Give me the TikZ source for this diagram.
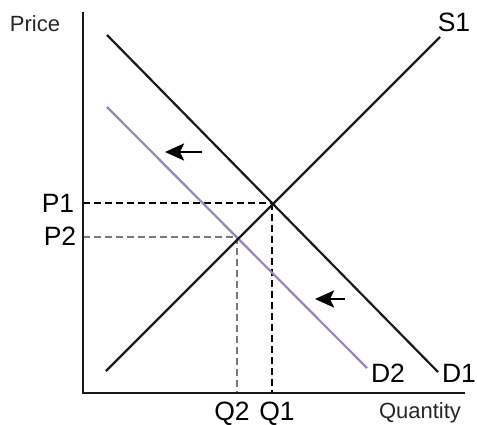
\documentclass[tikz,border=0pt]{standalone}
\usepackage{xcolor}
\usepackage{fontspec}
\setmainfont{Liberation Sans}
\usetikzlibrary{arrows.meta}

\definecolor{lilac}{RGB}{150,135,178}
\definecolor{dashgray}{RGB}{120,120,120}

\begin{document}
\begin{tikzpicture}[
    x=1pt, y=-1pt,
    biglabel/.style={
        inner sep=0pt,
        anchor=base,
        font=\fontsize{26.5}{28}\selectfont
    },
    smalllabel/.style={
        inner sep=0pt,
        anchor=base,
        font=\fontsize{22}{24}\selectfont,
        text=black!85
    },
    axis/.style={line width=2.4pt, black!90},
    curve/.style={line width=2.2pt, black!90},
    guide/.style={line width=1.6pt, dash pattern=on 7pt off 4pt},
    shiftarrow/.style={line width=2.6pt,-{Stealth[length=19pt,width=17pt,inset=4pt]}}
]
\useasboundingbox (0,0) rectangle (477,425);

% Points
\coordinate (origin) at (83,393);
\coordinate (ytop) at (83,12);
\coordinate (xend) at (465,393);
\coordinate (d1start) at (107,35);
\coordinate (d1end) at (438,372);
\coordinate (s1start) at (106,371);
\coordinate (s1end) at (440,37);
\coordinate (d2start) at (107,107);
\coordinate (d2end) at (367,368);
\coordinate (eq1) at (272,203);
\coordinate (eq2) at (237,237);
\coordinate (p1) at (83,203);
\coordinate (p2) at (83,237);
\coordinate (q1) at (272,393);
\coordinate (q2) at (237,393);
\coordinate (arrowAfrom) at (202,152);
\coordinate (arrowAto) at (165,152);
\coordinate (arrowBfrom) at (345,299);
\coordinate (arrowBto) at (315,299);

% Labels
\node (price) [smalllabel] at (35,32) {Price};
\node (qty) [smalllabel] at (420,418) {Quantity};
\node (s1lab) [biglabel] at (454,32) {S1};
\node (d1lab) [biglabel] at (459,382) {D1};
\node (d2lab) [biglabel] at (388,382) {D2};
\node (p1lab) [biglabel] at (58,213) {P1};
\node (p2lab) [biglabel] at (60,246) {P2};
\node (q2lab) [biglabel] at (232,420) {Q2};
\node (q1lab) [biglabel] at (277,420) {Q1};

% Guides
\draw [guide, black] (p1) -- (eq1);
\draw [guide, black] (eq1) -- (q1);
\draw [guide, dashgray] (p2) -- (eq2);
\draw [guide, dashgray] (eq2) -- (q2);

% Curves
\draw [curve, lilac] (d2start) -- (d2end);
\draw [curve] (d1start) -- (d1end);
\draw [curve] (s1start) -- (s1end);

% Axes
\draw [axis] (ytop) -- (origin) -- (xend);

% Arrows
\draw [shiftarrow] (arrowAfrom) -- (arrowAto);
\draw [shiftarrow] (arrowBfrom) -- (arrowBto);

\end{tikzpicture}
\end{document}
